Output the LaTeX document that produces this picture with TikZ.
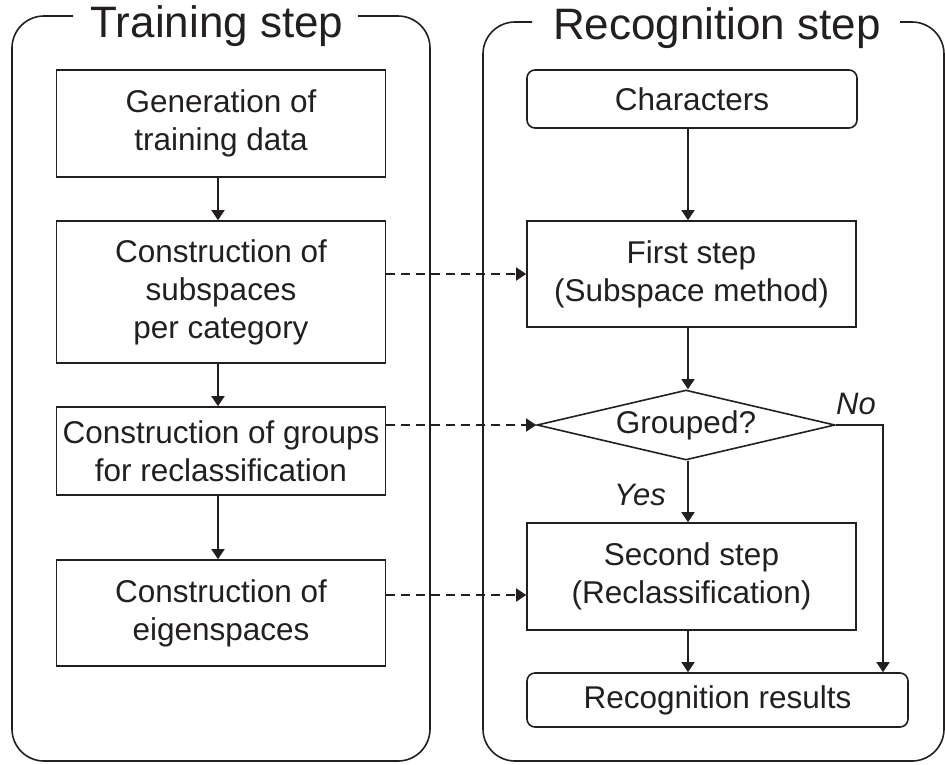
\documentclass[tikz,border=0pt]{standalone}
\usepackage{fontspec}
\setmainfont{Liberation Sans}
\usetikzlibrary{arrows.meta,shapes.geometric}
\definecolor{ink}{RGB}{35,31,32}
\tikzset{
  ln/.style={line width=1.6pt, draw=ink},
  arr/.style={ln, -{Triangle[length=10pt,width=13pt]}},
  darr/.style={arr, dash pattern=on 9pt off 6pt},
  box/.style={ln, rectangle, minimum width=329pt, inner sep=0pt, align=center, text=ink,
     font=\fontsize{31.5}{38}\selectfont},
  rbox/.style={box, rounded corners=8pt},
  ttl/.style={text=ink, font=\fontsize{44}{50}\selectfont, inner sep=0pt, anchor=base},
  lbl/.style={text=ink, font=\fontsize{31}{36}\selectfont\itshape, inner sep=0pt, anchor=base},
  panel/.style={ln, rounded corners=32pt}
}
\begin{document}
\begin{tikzpicture}[x=1pt,y=-1pt]
\useasboundingbox (0,0) rectangle (945,764);
% panels
\node[ttl] (t1) at (217,37) {Training step};
\node[ttl] (t2) at (717,39) {Recognition step};
\draw[panel] (73,16) -- (12,16) -- (12,761) -- (430,761) -- (430,16) -- (358,16);
\draw[panel] (532,22) -- (483,22) -- (483,761) -- (944,761) -- (944,22) -- (900,22);
% left column
\node[box, minimum height=107pt] (b1) at (221,123.5) {Generation of\\training data};
\node[box, minimum height=142pt] (b2) at (221,292) {Construction of\\subspaces\\per category};
\node[box, minimum height=88pt] (b3) at (221,451) {Construction of groups\\for reclassification};
\node[box, minimum height=106pt] (b4) at (221,613) {Construction of\\eigenspaces};
\coordinate (lx) at (218,0);
\draw[arr] (b1.south -| lx) -- (b2.north -| lx);
\draw[arr] (b2.south -| lx) -- (b3.north -| lx);
\draw[arr] (b3.south -| lx) -- (b4.north -| lx);
% right column
\node[rbox, minimum width=330pt, minimum height=58pt] (c) at (692,99) {Characters};
\node[box, minimum width=329pt, minimum height=106pt] (f) at (691.5,274) {First step\\(Subspace method)};
\node[ln, diamond, aspect=4.2, inner sep=0pt, minimum width=298pt, minimum height=70pt, text=ink,
      font=\fontsize{31.5}{36}\selectfont] (d) at (686,425) {Grouped?};
\node[box, minimum width=329pt, minimum height=107pt] (s) at (691.5,576.5) {Second step\\(Reclassification)};
\node[rbox, minimum width=381pt, minimum height=54pt] (r) at (717.5,700) {Recognition results};
\coordinate (vx) at (688,0);
\draw[arr] (c.south -| vx) -- (f.north -| vx);
\draw[arr] (f.south -| vx) -- (d.north -| vx);
\draw[arr] (d.south -| vx) -- (s.north -| vx);
\draw[arr] (s.south -| vx) -- (r.north -| vx);
\coordinate (nx) at (883,0);
\draw[arr] (d.east) -- (d.east -| nx) -- (r.north -| nx);
\node[lbl] (yes) at (640,505) {Yes};
\node[lbl] (no) at (856,414) {No};
% dashed links
\coordinate (y3) at (0,595);
\draw[darr] (b2.east |- f.west) -- (f.west);
\draw[darr] (b3.east |- d.west) -- (d.west);
\draw[darr] (b4.east |- y3) -- (s.west |- y3);
\end{tikzpicture}
\end{document}
